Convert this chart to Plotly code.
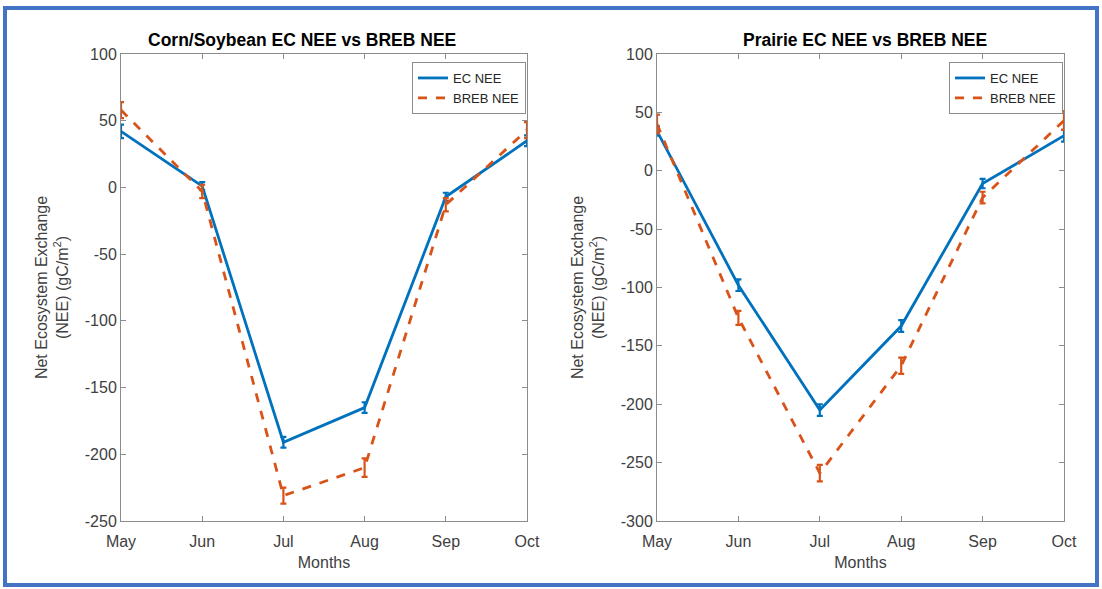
import plotly.graph_objects as go

months = ["May", "Jun", "Jul", "Aug", "Sep", "Oct"]

# Corn/Soybean
cs_ec = [42, 1, -191, -165, -7, 35]
cs_ec_err = [5, 3, 4, 4, 3, 4]
cs_breb = [58, -3, -231, -210, -13, 43]
cs_breb_err = [6, 5, 6, 7, 5, 6]

# Prairie
pr_ec = [34, -98, -205, -133, -11, 30]
pr_ec_err = [4, 5, 5, 5, 4, 5]
pr_breb = [40, -126, -259, -167, -23, 43]
pr_breb_err = [8, 6, 7, 7, 5, 8]

left_yticks = [100, 50, 0, -50, -100, -150, -200, -250]
right_yticks = [100, 50, 0, -50, -100, -150, -200, -250, -300]

BLUE = "#0072BD"
ORANGE = "#D95319"
FONT = "Liberation Sans, Arial, Helvetica, sans-serif"
TXT = "#404040"
W, H = 1102, 589

fig = go.Figure()

def add_pair(ec, ec_err, breb, breb_err, xa, ya, leg):
    fig.add_trace(go.Scatter(
        x=months, y=ec, mode="lines", name="EC NEE",
        line=dict(color=BLUE, width=2.8),
        error_y=dict(type="data", array=ec_err, visible=True, color=BLUE, thickness=2.2, width=3),
        xaxis=xa, yaxis=ya, legend=leg))
    fig.add_trace(go.Scatter(
        x=months, y=breb, mode="lines", name="BREB NEE",
        line=dict(color=ORANGE, width=2.8, dash="dash"),
        error_y=dict(type="data", array=breb_err, visible=True, color=ORANGE, thickness=2.2, width=3),
        xaxis=xa, yaxis=ya, legend=leg))

add_pair(cs_ec, cs_ec_err, cs_breb, cs_breb_err, "x", "y", "legend")
add_pair(pr_ec, pr_ec_err, pr_breb, pr_breb_err, "x2", "y2", "legend2")

def px_x(p):
    return p / W

def px_y(p):
    return 1 - p / H

ax_common = dict(
    type="category", range=[0, 5], showline=True, linecolor="#8c8c8c", linewidth=1,
    mirror="ticks", ticks="inside", ticklen=5, tickcolor="#8c8c8c",
    showgrid=False, zeroline=False, automargin=False, ticklabelstandoff=6,
    tickfont=dict(family=FONT, size=16, color=TXT),
    title=dict(text="Months", font=dict(family=FONT, size=16, color=TXT), standoff=7),
)
ay_common = dict(
    showline=True, linecolor="#8c8c8c", linewidth=1, mirror="ticks",
    ticks="inside", ticklen=5, tickcolor="#8c8c8c",
    showgrid=False, zeroline=False, automargin=False,
    tickfont=dict(family=FONT, size=16, color=TXT),
    title=dict(text="Net Ecosystem Exchange<br>(NEE) (gC/m<sup>2</sup>)",
               font=dict(family=FONT, size=16, color=TXT), standoff=12),
)

fig.update_layout(
    width=W, height=H,
    margin=dict(l=0, r=0, t=0, b=0),
    paper_bgcolor="white", plot_bgcolor="white",
    showlegend=True,
    xaxis=dict(ax_common, domain=[px_x(121), px_x(527)], anchor="y"),
    yaxis=dict(ay_common, domain=[px_y(521), px_y(54)], range=[-250, 100],
               tickvals=left_yticks, ticktext=[str(v) for v in left_yticks], anchor="x"),
    xaxis2=dict(ax_common, domain=[px_x(657), px_x(1064)], anchor="y2"),
    yaxis2=dict(ay_common, domain=[px_y(521), px_y(54)], range=[-300, 100],
                tickvals=right_yticks, ticktext=[str(v) for v in right_yticks], anchor="x2"),
    legend=dict(x=px_x(526), y=px_y(62), xanchor="right", yanchor="top",
                bordercolor="#8c8c8c", borderwidth=1, bgcolor="white",
                font=dict(family=FONT, size=13, color="#262626"),
                tracegroupgap=0, itemwidth=30),
    legend2=dict(x=px_x(1063), y=px_y(62), xanchor="right", yanchor="top",
                 bordercolor="#8c8c8c", borderwidth=1, bgcolor="white",
                 font=dict(family=FONT, size=13, color="#262626"),
                 tracegroupgap=0, itemwidth=30),
    annotations=[
        dict(text="<b>Corn/Soybean EC NEE vs BREB NEE</b>", xref="paper", yref="paper",
             x=px_x(302), y=px_y(40), xanchor="center", yanchor="middle", showarrow=False,
             font=dict(family=FONT, size=17.5, color="#000000")),
        dict(text="<b>Prairie EC NEE vs BREB NEE</b>", xref="paper", yref="paper",
             x=px_x(865), y=px_y(40), xanchor="center", yanchor="middle", showarrow=False,
             font=dict(family=FONT, size=17.5, color="#000000")),
    ],
    shapes=[
        dict(type="rect", xref="paper", yref="paper",
             x0=px_x(5), x1=px_x(1097), y0=px_y(585), y1=px_y(8),
             line=dict(color="#4472C4", width=4), fillcolor="rgba(0,0,0,0)", layer="below"),
    ],
)

fig.write_html("out.html", config={"displayModeBar": False},
               post_script="document.body.style.margin='0';document.body.style.padding='0';document.body.style.overflow='hidden';")
